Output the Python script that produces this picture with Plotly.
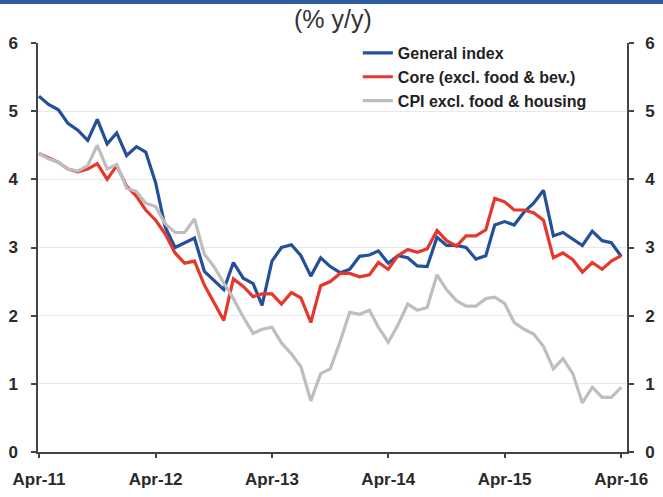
import plotly.graph_objects as go
import pandas as pd

months = pd.date_range("2011-04-01", "2016-04-01", freq="MS")

general_index = [
    5.22, 5.10, 5.02, 4.82, 4.72, 4.57, 4.88, 4.52, 4.68, 4.35,
    4.48, 4.40, 3.95, 3.30, 3.00, 3.07, 3.14, 2.65, 2.52, 2.38,
    2.78, 2.55, 2.47, 2.15, 2.80, 3.00, 3.04, 2.88, 2.58, 2.85,
    2.72, 2.63, 2.68, 2.87, 2.89, 2.95, 2.77, 2.88, 2.85, 2.73,
    2.72, 3.15, 3.03, 3.03, 3.00, 2.83, 2.88, 3.33, 3.38, 3.33,
    3.52, 3.65, 3.84, 3.17, 3.22, 3.13, 3.03, 3.24, 3.10, 3.07,
    2.87,
]
core = [
    4.38, 4.32, 4.25, 4.15, 4.11, 4.15, 4.23, 4.00, 4.20, 3.90,
    3.75, 3.55, 3.40, 3.20, 2.92, 2.77, 2.80, 2.45, 2.20, 1.93,
    2.54, 2.43, 2.28, 2.32, 2.32, 2.17, 2.34, 2.26, 1.90, 2.44,
    2.50, 2.62, 2.62, 2.57, 2.60, 2.78, 2.68, 2.88, 2.97, 2.93,
    2.98, 3.25, 3.10, 3.02, 3.17, 3.17, 3.26, 3.72, 3.67, 3.55,
    3.55, 3.51, 3.40, 2.85, 2.92, 2.82, 2.64, 2.78, 2.68, 2.80,
    2.88,
]
cpi_ex_food_housing = [
    4.38, 4.30, 4.25, 4.15, 4.12, 4.20, 4.50, 4.15, 4.22, 3.87,
    3.82, 3.65, 3.60, 3.35, 3.22, 3.22, 3.42, 2.90, 2.72, 2.48,
    2.25, 1.98, 1.74, 1.80, 1.83, 1.60, 1.44, 1.25, 0.75, 1.15,
    1.22, 1.62, 2.05, 2.02, 2.08, 1.83, 1.61, 1.86, 2.17, 2.08,
    2.12, 2.60, 2.38, 2.22, 2.14, 2.14, 2.25, 2.27, 2.18, 1.90,
    1.80, 1.73, 1.55, 1.22, 1.37, 1.15, 0.72, 0.95, 0.80, 0.80,
    0.95,
]

series_names = ["General index", "Core (excl. food & bev.)", "CPI excl. food & housing"]
series_colors = ["#23509B", "#E5372B", "#BEBEBE"]
y_ticks = [0, 1, 2, 3, 4, 5, 6]
x_tick_dates = ["2011-04-01", "2012-04-01", "2013-04-01", "2014-04-01", "2015-04-01", "2016-04-01"]
x_tick_labels = ["Apr-11", "Apr-12", "Apr-13", "Apr-14", "Apr-15", "Apr-16"]

fig = go.Figure()
for name, vals, col in zip(series_names, [general_index, core, cpi_ex_food_housing], series_colors):
    fig.add_trace(go.Scatter(x=months, y=vals, mode="lines", name=name,
                             line=dict(color=col, width=3.2)))
# dummy trace to activate right axis
fig.add_trace(go.Scatter(x=[], y=[], yaxis="y2", showlegend=False, hoverinfo="skip"))

font_fam = "Liberation Sans, Arial, sans-serif"
tick_font = dict(family=font_fam, size=17, color="#2a2a2a", weight="bold")

fig.update_layout(
    width=663, height=497,
    margin=dict(l=38, r=36, t=43, b=45, autoexpand=False),
    paper_bgcolor="white", plot_bgcolor="white",
    showlegend=True,
    legend=dict(x=0.543, y=1.017, xanchor="left", yanchor="top",
                bgcolor="rgba(0,0,0,0)",
                font=dict(family=font_fam, size=16, color="#222222", weight="bold"),
                tracegroupgap=0),
    xaxis=dict(range=["2011-03-29", "2016-04-19"], tickvals=x_tick_dates, ticktext=x_tick_labels,
               showgrid=False, showline=True, linecolor="#444444", linewidth=1.5,
               ticks="outside", ticklen=4, tickcolor="#444444", tickwidth=1.5,
               tickfont=tick_font, ticklabelstandoff=7, zeroline=False, automargin=False),
    yaxis=dict(range=[0, 6], tickvals=y_ticks, showgrid=True, gridcolor="#E8E8E8", gridwidth=1,
               showline=True, linecolor="#444444", linewidth=1.5, ticks="outside", ticklen=5,
               tickcolor="#444444", tickwidth=1.5, tickfont=tick_font, ticklabelstandoff=10,
               zeroline=False, automargin=False),
    yaxis2=dict(range=[0, 6], tickvals=y_ticks, overlaying="y", side="right", showgrid=False,
                showline=True, linecolor="#444444", linewidth=1.5, ticks="outside", ticklen=5,
                tickcolor="#444444", tickwidth=1.5, tickfont=tick_font, ticklabelstandoff=8,
                zeroline=False, automargin=False),
    annotations=[dict(text="(% y/y)", x=0.5, y=1.0 + 24 / 409, xref="paper", yref="paper",
                      yanchor="middle", xanchor="center",
                      showarrow=False, font=dict(family=font_fam, size=25, color="#333333"))],
    shapes=[dict(type="rect", xref="paper", yref="paper", x0=-0.07, x1=1.07,
                 y0=1.0 + 39 / 409, y1=1.0 + 46 / 409, fillcolor="#2F5C9C", line=dict(width=0))],
)

fig.write_html("out.html", config={"displayModeBar": False},
               post_script="document.body.style.margin='0';document.body.style.overflow='hidden';")
